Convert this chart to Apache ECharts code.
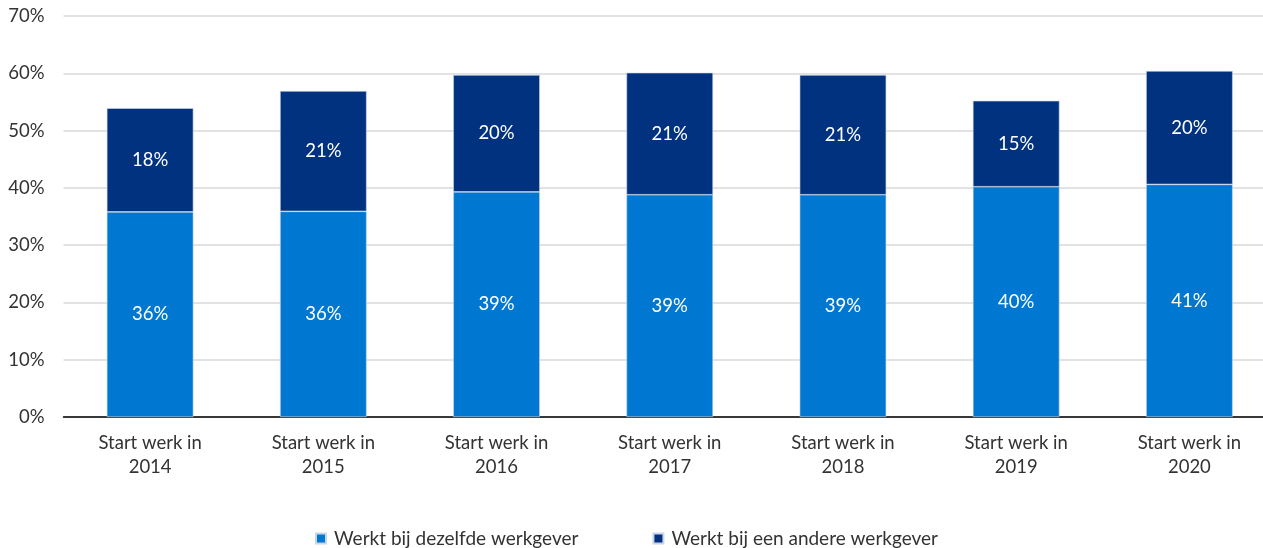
<!DOCTYPE html>
<html><head><meta charset="utf-8">
<script src="https://cdn.jsdelivr.net/npm/echarts@6/dist/echarts.min.js"></script>
<style>html,body{margin:0;padding:0;background:#fff;overflow:hidden;width:1263px;height:548px}#c{width:1276px;height:548px}</style>
</head><body><div id="c"></div>
<script>
var categories = ['Start werk in\n2014','Start werk in\n2015','Start werk in\n2016','Start werk in\n2017','Start werk in\n2018','Start werk in\n2019','Start werk in\n2020'];
var sameEmployer = [35.8, 35.9, 39.3, 38.8, 38.8, 40.2, 40.6];
var otherEmployer = [18.1, 21.0, 20.4, 21.3, 20.9, 15.0, 19.8];
var seriesNames = ['Werkt bij dezelfde werkgever', 'Werkt bij een andere werkgever'];
var FONT = 'Lato, "Open Sans", sans-serif';
var chart = echarts.init(document.getElementById('c'));
function lbl(){ return {show:true, position:'inside', color:'#fff', fontFamily:FONT, fontSize:18.5,
  formatter:function(p){return Math.round(p.value)+'%';}}; }
chart.setOption({
  animation:false,
  grid:{left:63.5, right:0, top:16, bottom:131, containLabel:false},
  legend:{top:529, left:315, padding:0, itemWidth:10, itemHeight:10, itemGap:74, icon:'rect',
    textStyle:{fontFamily:FONT, fontSize:19, color:'#333', padding:[0,0,0,3]}},
  xAxis:{type:'category', data:categories,
    axisLine:{lineStyle:{color:'#000', width:1.5}}, axisTick:{show:false},
    axisLabel:{fontFamily:FONT, fontSize:18.5, color:'#333', lineHeight:24, margin:14}},
  yAxis:{type:'value', min:0, max:70, interval:10,
    axisLabel:{formatter:'{value}%', fontFamily:FONT, fontSize:18.5, color:'#333', margin:19},
    splitLine:{lineStyle:{color:'#d9d9d9', width:1.5}}},
  series:[
    {name:seriesNames[0], type:'bar', stack:'a', data:sameEmployer, barWidth:86.6,
     itemStyle:{color:'#0078d2', borderColor:'#c9d6ea', borderWidth:0.6}, label:lbl()},
    {name:seriesNames[1], type:'bar', stack:'a', data:otherEmployer, barWidth:86.6,
     itemStyle:{color:'#00327f', borderColor:'#c9d6ea', borderWidth:0.6}, label:lbl()}
  ]
});
</script></body></html>
